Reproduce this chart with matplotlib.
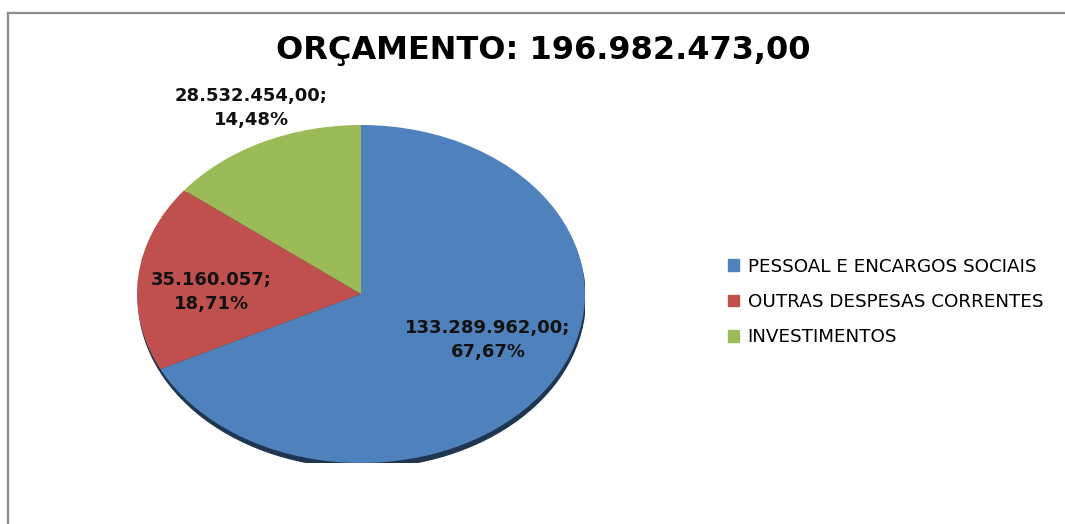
import matplotlib.pyplot as plt
from matplotlib.patches import Ellipse
from matplotlib.lines import Line2D
from matplotlib import font_manager

categories = ['PESSOAL E ENCARGOS SOCIAIS', 'OUTRAS DESPESAS CORRENTES', 'INVESTIMENTOS']
values = [133289962.00, 35160057.00, 28532454.00]
value_text = ['133.289.962,00', '35.160.057', '28.532.454,00']
pct_text = ['67,67%', '18,71%', '14,48%']
title = 'ORÇAMENTO: 196.982.473,00'

colors = ['#4f81bd', '#c0504d', '#9bbb59']

W, H = 1065, 524
fig = plt.figure(figsize=(W / 100, H / 100), dpi=100)

# frame lines (top and left only visible)
fig.add_artist(Line2D([8 / W, 8 / W], [0, 1 - 13 / H], color='#8c8c8c', lw=1.6))
fig.add_artist(Line2D([8 / W, 1], [1 - 13 / H, 1 - 13 / H], color='#8c8c8c', lw=1.6))

# pie axes: ellipse center (361, 294), rx 224, ry 169 px
cx, cy, rx, ry = 361, 294, 224, 169
ax = fig.add_axes([(cx - rx) / W, 1 - (cy + ry) / H, 2 * rx / W, 2 * ry / H])
ax.add_patch(Ellipse((0.004, -0.028), 1.995, 2.0, color='#1f3550', zorder=0))
ax.pie(values, colors=colors, startangle=90, counterclock=False,
       wedgeprops=dict(linewidth=0))
ax.set_aspect('auto')
ax.set_xlim(-1, 1)
ax.set_ylim(-1, 1)
ax.axis('off')

# data labels (pixel positions of label centers)
label_pos = [(488, 340), (211, 292), (251, 108)]
for vt, pt, (px, py) in zip(value_text, pct_text, label_pos):
    fig.text(px / W, 1 - py / H, vt + ';\n' + pt, ha='center', va='center',
             fontsize=13, fontweight='bold', color='#111111',
             family='DejaVu Sans', linespacing=1.4)

# condensed title font if present
names = {f.name for f in font_manager.fontManager.ttflist}
if 'Liberation Sans Narrow' in names:
    tfam, tsize = 'Liberation Sans Narrow', 27
else:
    tfam, tsize = 'DejaVu Sans', 23
fig.text(543 / W, 1 - 50 / H, title, ha='center', va='center',
         fontsize=tsize, fontweight='bold', family=tfam)

handles = [plt.Rectangle((0, 0), 1, 1, color=c) for c in colors]
fig.legend(handles, categories, loc='center left',
           bbox_to_anchor=(711 / W, 1 - 302 / H), frameon=False,
           handlelength=0.6, handleheight=0.6, handletextpad=0.5,
           labelspacing=0.95, prop=dict(family='DejaVu Sans', size=13.2))

fig.savefig('out.png', dpi=100)
